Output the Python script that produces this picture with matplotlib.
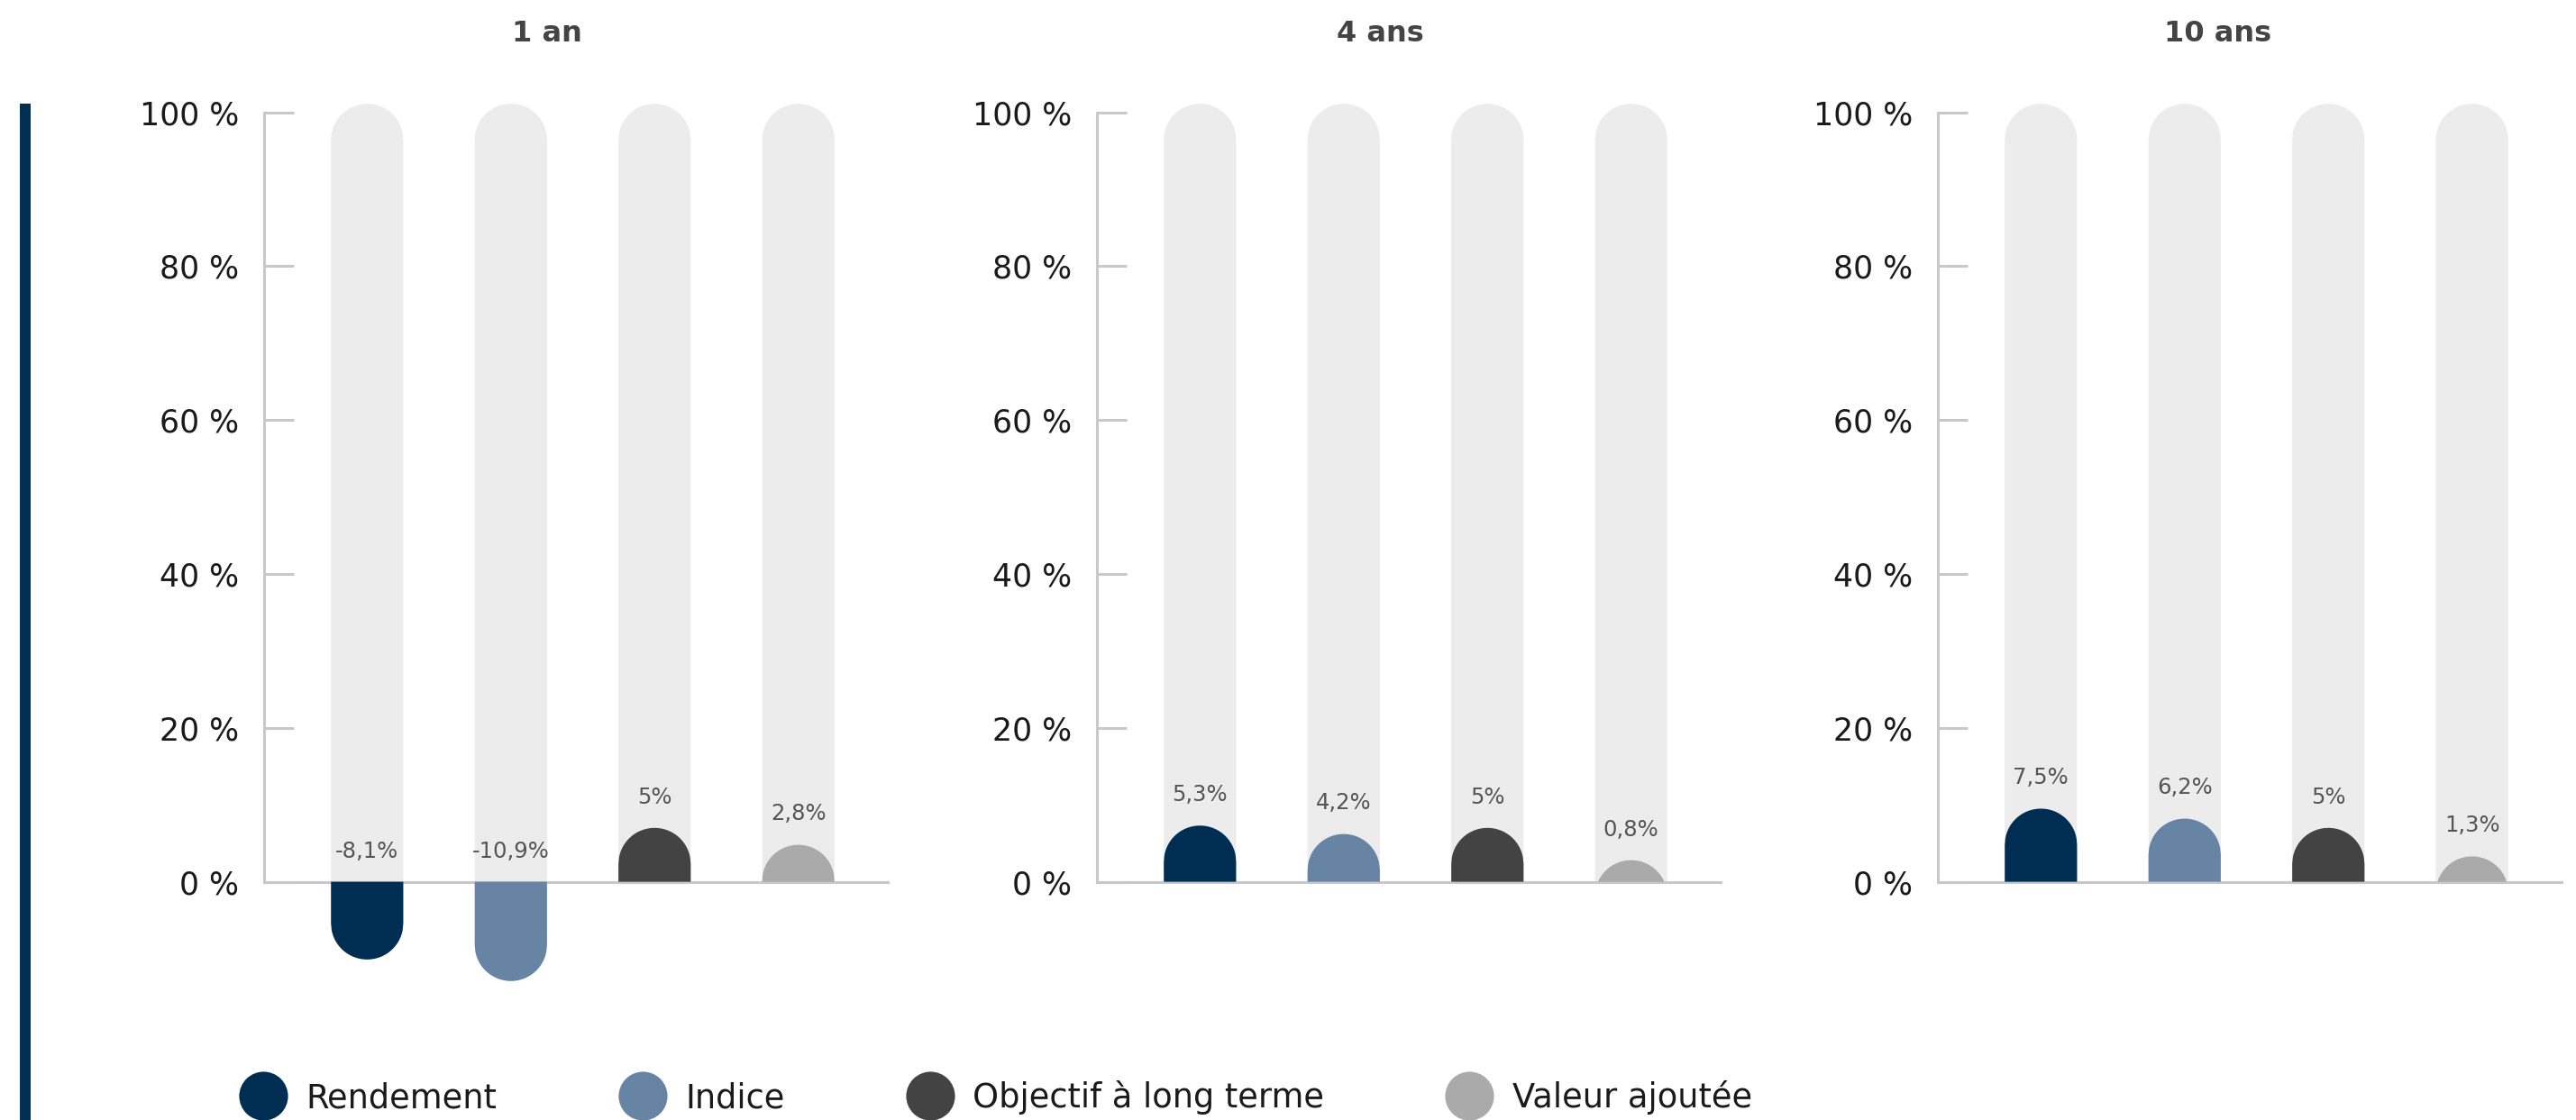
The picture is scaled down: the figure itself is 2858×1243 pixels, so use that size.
import numpy as np
import matplotlib
matplotlib.use("Agg")
import matplotlib.pyplot as plt
from matplotlib.patches import Polygon, Rectangle
from matplotlib.lines import Line2D

# data
periods = ['1 an', '4 ans', '10 ans']
series = ['Rendement', 'Indice', 'Objectif à long terme', 'Valeur ajoutée']
rendement = [-8.1, 5.3, 7.5]
indice = [-10.9, 4.2, 6.2]
objectif = [5, 5, 5]
valeur = [2.8, 0.8, 1.3]
colors = ['#002e52', '#6884a4', '#434343', '#aaaaaa']
yticks = [0, 20, 40, 60, 80, 100]

W, H = 2858, 1243
fig = plt.figure(figsize=(W / 100, H / 100), dpi=100)

# px -> data helpers
px_per_unit_x = 159.0
px_per_pct = 8.54
bar_w = 0.503
rx = bar_w / 2
ry = 40 / px_per_pct
grid_col = '#c8c8cc'


def rounded_bar(ax, x, end, color, z):
    # stadium end of radius rx/ry, clipped at 0
    s = 1 if end >= 0 else -1
    c = end - s * ry
    dx = np.linspace(-rx, rx, 120)
    tip = c + s * ry * np.sqrt(np.clip(1 - (dx / rx) ** 2, 0, 1))
    if s > 0:
        tip = np.maximum(tip, 0)
    else:
        tip = np.minimum(tip, 0)
    pts = [(x - rx, 0)] + list(zip(x + dx, tip)) + [(x + rx, 0)]
    ax.add_patch(Polygon(pts, closed=True, facecolor=color, edgecolor='none',
                         zorder=z, clip_on=False))


def fmt(v):
    return f"{v:g}".replace('.', ',') + '%'


lefts = [293, 1217, 2150]
title_x = [607, 1531, 2461]
ax_w = 692 / W
ax_b = (H - 978.6) / H
ax_h = (978.6 - 124.6) / H

for i, p in enumerate(periods):
    ax = fig.add_axes([lefts[i] / W, ax_b, ax_w, ax_h])
    ax.set_xlim(-114 / px_per_unit_x, 3 + 99 / px_per_unit_x)
    ax.set_ylim(0, 100)
    vals = [rendement[i], indice[i], objectif[i], valeur[i]]
    for j, v in enumerate(vals):
        rounded_bar(ax, j, 101.1, '#ececec', 1)
        end = v + (2.0 if v >= 0 else -2.0)
        rounded_bar(ax, j, end, colors[j], 3)
        if v < 0:
            ly = 3.9
        else:
            ly = v + 6
        ax.text(j, ly, fmt(v), ha='center', va='center', fontsize=17.5,
                color='#555555', zorder=4)

    for s in ['top', 'right']:
        ax.spines[s].set_visible(False)
    for s in ['left', 'bottom']:
        ax.spines[s].set_color(grid_col)
        ax.spines[s].set_linewidth(2.2)
        ax.spines[s].set_zorder(2)
    ax.set_xticks([])
    ax.set_yticks(yticks)
    ax.set_yticklabels([f"{t} %" for t in yticks])
    ax.tick_params(axis='y', direction='in', length=24, width=2.2, color=grid_col,
                   labelsize=25, labelcolor='#1a1a1a', pad=20)
    ax.patch.set_visible(False)

    fig.text(title_x[i] / W, 1 - 38 / H, p, ha='center', va='center',
             fontsize=23, fontweight='bold', color='#444444')

# left accent bar
fig.add_artist(Rectangle((22 / W, 0), 12 / W, (H - 115) / H, transform=fig.transFigure,
                         facecolor='#003056', edgecolor='none'))

handles = [Line2D([], [], marker='o', linestyle='none', markersize=39,
                  markerfacecolor=c, markeredgecolor='none') for c in colors]
fig.legend(handles, series, loc='center left', bbox_to_anchor=(265 / W, 25 / H),
           ncol=4, frameon=False, fontsize=26.5, handlelength=1.47, handletextpad=0.55,
           columnspacing=3.65, borderpad=0, borderaxespad=0, labelcolor='#1a1a1a')

fig.savefig('out.png', dpi=100)
